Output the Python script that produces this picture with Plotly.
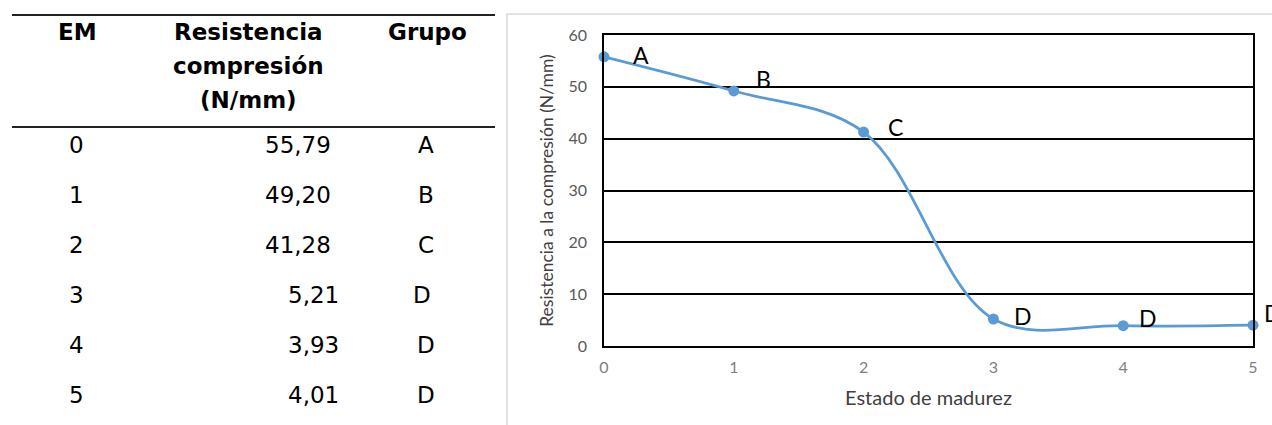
import plotly.graph_objects as go

# ---- data ----
em = [0, 1, 2, 3, 4, 5]
resistencia = [55.79, 49.20, 41.28, 5.21, 3.93, 4.01]
grupo = ["A", "B", "C", "D", "D", "D"]
y_ticks = [0, 10, 20, 30, 40, 50, 60]
x_ticks = [0, 1, 2, 3, 4, 5]
header_em = "EM"
header_res = ["Resistencia", "compresión", "(N/mm)"]
header_grupo = "Grupo"
x_title = "Estado de madurez"
y_title = "Resistencia a la compresión (N/mm)"

# ---- layout geometry (pixels) ----
W, H = 1272, 425
PL, PR, PT, PB = 604, 1253, 35, 346


def px(x):
    return x / W


def py(y):
    return 1 - y / H


BLUE = "#5B9BD5"
CF = "Lato, Open Sans, sans-serif"
fig = go.Figure()

fig.add_trace(go.Scatter(
    x=em, y=resistencia, mode="lines+markers",
    line=dict(color=BLUE, width=2.75, shape="spline", smoothing=1.0),
    marker=dict(color=BLUE, size=11),
    cliponaxis=False, showlegend=False, hoverinfo="x+y",
))

# point labels (group letters)
lab_dx = [28, 21, 23, 20, 15, 10]
lab_dy = [2, 12, 5, 3, 8, 12]
for xv, yv, g, dx, dy in zip(em, resistencia, grupo, lab_dx, lab_dy):
    fig.add_annotation(x=xv, y=yv, xref="x", yref="y", text=g, showarrow=False,
                       xanchor="left", yanchor="middle", xshift=dx - 1, yshift=dy,
                       font=dict(family=CF, size=23, color="#000000"))

annots = []
TF = "DejaVu Sans, Verdana, sans-serif"
TS = 23
# table headers
annots.append(dict(x=px(77), y=py(32), text="<b>%s</b>" % header_em))
for i, t in enumerate(header_res):
    annots.append(dict(x=px(248), y=py(32 + i * 34), text="<b>%s</b>" % t))
annots.append(dict(x=px(427), y=py(32), text="<b>%s</b>" % header_grupo))
for a in annots:
    a.update(xref="paper", yref="paper", showarrow=False, xanchor="center", yanchor="middle",
             font=dict(family=TF, size=TS, color="#000000"))
    fig.add_annotation(**a)

row_y0, row_dy = 145, 50
for i, (e, r, g) in enumerate(zip(em, resistencia, grupo)):
    yy = row_y0 + i * row_dy
    fig.add_annotation(x=px(76), y=py(yy), xref="paper", yref="paper", text=str(e),
                       showarrow=False, xanchor="center", yanchor="middle",
                       font=dict(family=TF, size=TS, color="#000000"))
    txt = ("%.2f" % r).replace(".", ",")
    right = 333 if r >= 10 else 341
    fig.add_annotation(x=px(right), y=py(yy), xref="paper", yref="paper", text=txt,
                       showarrow=False, xanchor="right", yanchor="middle",
                       font=dict(family=TF, size=TS, color="#000000"))
    gx = 422 if i == 3 else 426
    fig.add_annotation(x=px(gx), y=py(yy), xref="paper", yref="paper", text=g,
                       showarrow=False, xanchor="center", yanchor="middle",
                       font=dict(family=TF, size=TS, color="#000000"))

shapes = [
    # table rules
    dict(type="line", xref="paper", yref="paper", x0=px(12), x1=px(495), y0=py(15), y1=py(15),
         line=dict(color="#222222", width=2)),
    dict(type="line", xref="paper", yref="paper", x0=px(12), x1=px(495), y0=py(127), y1=py(127),
         line=dict(color="#222222", width=2)),
    # chart area border
    dict(type="rect", xref="paper", yref="paper", x0=px(507), x1=px(1290), y0=py(440), y1=py(14),
         line=dict(color="#D9D9D9", width=1.5), layer="below"),
]

fig.update_layout(
    width=W, height=H,
    margin=dict(l=0, r=0, t=0, b=0),
    paper_bgcolor="white", plot_bgcolor="white",
    shapes=shapes,
    xaxis=dict(domain=[px(PL), px(PR)], range=[0, 5], tickvals=x_ticks, automargin=False,
               showgrid=False, zeroline=False, showline=True, mirror=True,
               linecolor="#000000", linewidth=1.5, ticks="", ticklabelstandoff=6,
               tickfont=dict(family=CF, size=16, color="#7F7F7F"),
               title=dict(text=x_title, standoff=16,
                          font=dict(family=CF, size=20, color="#404040"))),
    yaxis=dict(domain=[py(PB), py(PT)], range=[0, 60], tickvals=y_ticks, automargin=False,
               showgrid=True, gridcolor="#000000", gridwidth=1.5, zeroline=False,
               showline=True, mirror=True, linecolor="#000000", linewidth=1.5, ticks="",
               ticklabelstandoff=12,
               tickfont=dict(family=CF, size=16, color="#595959"),
               title=dict(text=y_title, standoff=10,
                          font=dict(family=CF, size=17.5, color="#404040"))),
)

fig.write_html("out.html", config={"displayModeBar": False},
               post_script="document.body.style.margin='0';document.body.style.padding='0';"
                           "document.documentElement.style.overflow='hidden';"
                           "var gd=document.getElementById('{plot_id}');"
                           "gd.style.position='fixed';gd.style.top='0px';gd.style.left='0px';")
